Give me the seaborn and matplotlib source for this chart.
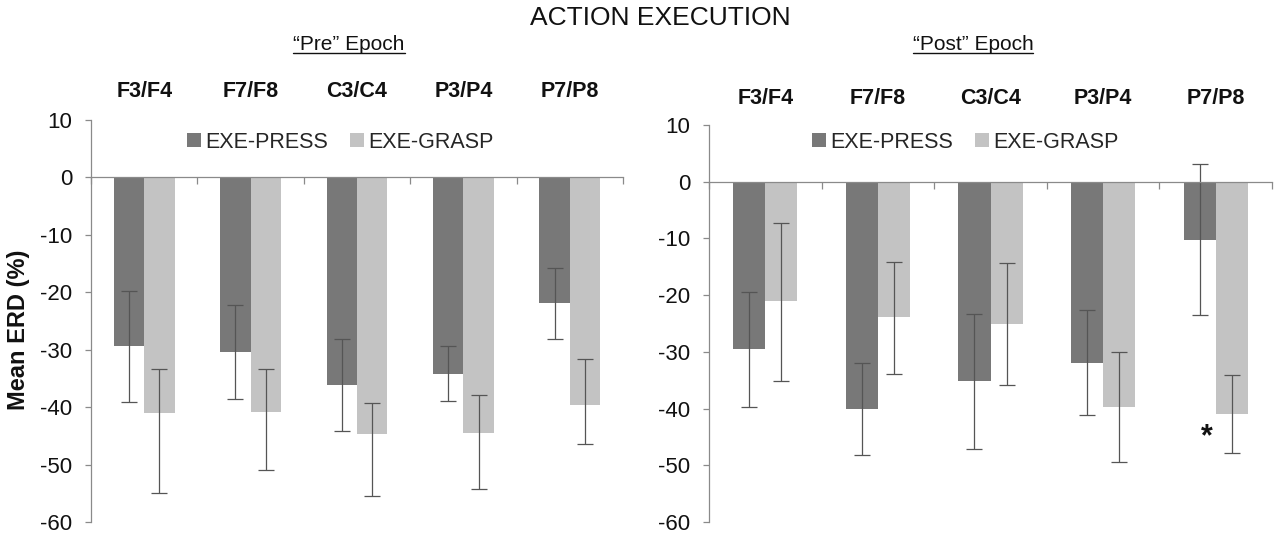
import matplotlib
matplotlib.use("Agg")
import matplotlib.pyplot as plt
import matplotlib.patches as mpatches
from matplotlib.lines import Line2D
import pandas as pd
import seaborn as sns

channels = ["F3/F4", "F7/F8", "C3/C4", "P3/P4", "P7/P8"]
conditions = ["EXE-PRESS", "EXE-GRASP"]

# "Pre" epoch
pre_press = [-29.4, -30.4, -36.2, -34.2, -21.9]
pre_press_lo = [9.7, 8.2, 8.0, 4.8, 6.2]
pre_press_hi = [9.7, 8.2, 8.0, 4.8, 6.2]
pre_grasp = [-41.0, -40.9, -44.7, -44.5, -39.7]
pre_grasp_lo = [14.0, 10.0, 10.8, 9.8, 6.8]
pre_grasp_hi = [7.7, 7.5, 5.5, 6.7, 8.0]

# "Post" epoch
post_press = [-29.5, -40.1, -35.2, -31.9, -10.2]
post_press_lo = [10.2, 8.1, 12.0, 9.2, 13.3]
post_press_hi = [10.1, 8.2, 11.8, 9.2, 13.4]
post_grasp = [-21.1, -23.9, -25.1, -39.8, -41.0]
post_grasp_lo = [14.0, 10.0, 10.8, 9.7, 6.9]
post_grasp_hi = [13.9, 9.8, 10.7, 9.8, 6.9]

colors = ["#787878", "#c3c3c3"]
axis_col = "#8a8a8a"

sns.set_theme(style="white")
plt.rcParams["font.family"] = ["Liberation Sans", "DejaVu Sans"]
plt.rcParams["axes.unicode_minus"] = False

W, H = 1280, 538
fig = plt.figure(figsize=(W / 100, H / 100), dpi=100)


def px_rect(x0, x1, ytop, ybot):
    return [x0 / W, 1 - ybot / H, (x1 - x0) / W, (ybot - ytop) / H]


ax_pre = fig.add_axes(px_rect(91, 623, 120, 522))
ax_post = fig.add_axes(px_rect(709, 1272, 125, 522))


def draw_panel(ax, press, press_lo, press_hi, grasp, grasp_lo, grasp_hi, head_y):
    df = pd.DataFrame({
        "channel": channels * 2,
        "condition": [conditions[0]] * 5 + [conditions[1]] * 5,
        "erd": press + grasp,
    })
    sns.barplot(data=df, x="channel", y="erd", hue="condition", hue_order=conditions,
                order=channels, palette=colors, width=0.57, saturation=1,
                errorbar=None, legend=False, ax=ax, linewidth=0)
    errs = [(press, press_lo, press_hi), (grasp, grasp_lo, grasp_hi)]
    for cont, (vals, lo, hi) in zip(ax.containers, errs):
        xs = [p.get_x() + p.get_width() / 2 for p in cont.patches]
        ax.errorbar(xs, vals, yerr=[lo, hi], fmt="none", ecolor="#555555",
                    elinewidth=0.9, capsize=5.5, capthick=0.9)

    ax.set_ylim(-60, 10)
    ax.set_xlim(-0.5, 4.5)
    ax.set_yticks(range(-60, 11, 10))
    ax.set_xticks([i - 0.5 for i in range(6)])
    ax.set_xticklabels([])
    ax.set_xlabel("")
    ax.set_ylabel("")
    for s in ["top", "right"]:
        ax.spines[s].set_visible(False)
    ax.spines["bottom"].set_position(("data", 0))
    for s in ["left", "bottom"]:
        ax.spines[s].set_color(axis_col)
        ax.spines[s].set_linewidth(0.9)
    ax.tick_params(axis="y", direction="out", length=4.5, width=0.9, color=axis_col,
                   labelsize=16, pad=9, left=True)
    ax.tick_params(axis="x", direction="out", length=5, width=0.9, color=axis_col, bottom=True)
    for lab in ax.get_yticklabels():
        lab.set_color("#111111")

    tr = ax.get_xaxis_transform()
    for i, ch in enumerate(channels):
        ax.text(i, head_y, ch, transform=tr, ha="center", va="center",
                fontsize=15.5, fontweight="bold", color="#111111")


draw_panel(ax_pre, pre_press, pre_press_lo, pre_press_hi,
           pre_grasp, pre_grasp_lo, pre_grasp_hi, 1.07)
draw_panel(ax_post, post_press, post_press_lo, post_press_hi,
           post_grasp, post_grasp_lo, post_grasp_hi, 1.066)

ax_post.text(3.92, -45.0, "*", ha="center", va="center", fontsize=22,
             fontweight="bold", color="#111111")

handles = [mpatches.Patch(facecolor=c, edgecolor="none", label=l)
           for c, l in zip(colors, conditions)]
for cx in [340 / W, 965 / W]:
    fig.legend(handles=handles, loc="center", bbox_to_anchor=(cx, 1 - 142 / H),
               ncol=2, frameon=False, fontsize=15.5, handlelength=0.65,
               handleheight=0.65, handletextpad=0.2, columnspacing=1.0)

fig.text(660 / W, 1 - 18 / H, "ACTION EXECUTION", ha="center", va="center",
         fontsize=19, color="#111111")
fig.text(19 / W, 1 - 330 / H, "Mean ERD (%)", rotation=90, ha="center",
         va="center", fontsize=17, fontweight="bold", color="#111111")

epoch_texts = [
    fig.text(349 / W, 1 - 45 / H, "\u201cPre\u201d Epoch", ha="center", va="center",
             fontsize=15, color="#111111"),
    fig.text(973 / W, 1 - 45 / H, "\u201cPost\u201d Epoch", ha="center", va="center",
             fontsize=15, color="#111111"),
]
fig.canvas.draw()
rend = fig.canvas.get_renderer()
for t in epoch_texts:
    bb = t.get_window_extent(renderer=rend).transformed(fig.transFigure.inverted())
    fig.add_artist(Line2D([bb.x0, bb.x1], [bb.y0 + 0.002, bb.y0 + 0.002],
                          transform=fig.transFigure, color="#111111", lw=1.0))

fig.savefig("out.png", dpi=100)
